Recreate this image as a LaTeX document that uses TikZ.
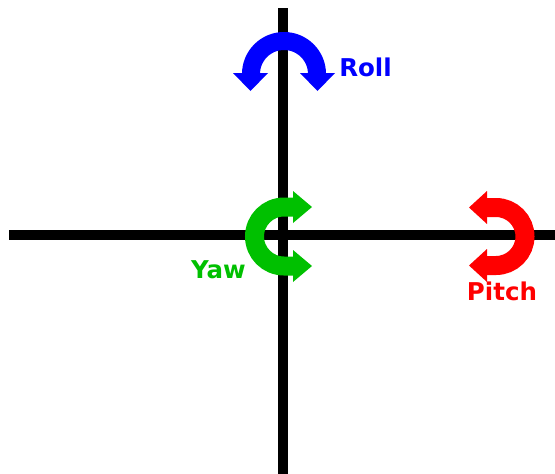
\documentclass[tikz,border=0pt]{standalone}
\usepackage{fontspec}
\setmainfont{DejaVu Sans}
\definecolor{rollblue}{RGB}{0,0,255}
\definecolor{yawgreen}{RGB}{0,192,0}
\definecolor{pitchred}{RGB}{255,0,0}
\begin{document}
\begin{tikzpicture}[x=1pt,y=-1pt,
  axis/.style={line width=10pt,black},
  band/.style={line width=19pt},
  lbl/.style={font=\bfseries\fontsize{24.5}{24.5}\selectfont,inner sep=0pt}]
\useasboundingbox (0,0) rectangle (555,474);
\fill[white] (0,0) rectangle (555,474);
% axes
\coordinate (vt) at (283,8);
\coordinate (vb) at (283,474);
\coordinate (hl) at (9,235);
\coordinate (hr) at (555,235);
\draw[axis] (vt) -- (vb);
\draw[axis] (hl) -- (hr);
% Roll arrow
\draw[band,line width=18pt,rollblue] (251,74) arc[start angle=180,end angle=360,radius=33];
\fill[rollblue] (233,73) -- (268,73) -- (250.5,91) -- cycle;
\fill[rollblue] (300,73) -- (335,73) -- (317.5,91) -- cycle;
% Yaw arrow
\draw[band,yawgreen] (294,207) -- (284,207) arc[start angle=270,end angle=90,radius=29.5] -- (294,266);
\fill[yawgreen] (293,191) -- (293,223) -- (312,207) -- cycle;
\fill[yawgreen] (293,250) -- (293,282) -- (312,266) -- cycle;
% Pitch arrow
\draw[band,pitchred] (486,207.5) -- (496,207.5) arc[start angle=270,end angle=450,radius=29] -- (486,265.5);
\fill[pitchred] (487,191) -- (487,224) -- (469,207.5) -- cycle;
\fill[pitchred] (487,249) -- (487,282) -- (469,265.5) -- cycle;
% labels
\node[lbl,text=rollblue] (roll) at (365.5,67) {Roll};
\node[lbl,text=yawgreen] (yaw) at (218.5,270) {Yaw};
\node[lbl,text=pitchred] (pitch) at (502,291) {Pitch};
\end{tikzpicture}
\end{document}
